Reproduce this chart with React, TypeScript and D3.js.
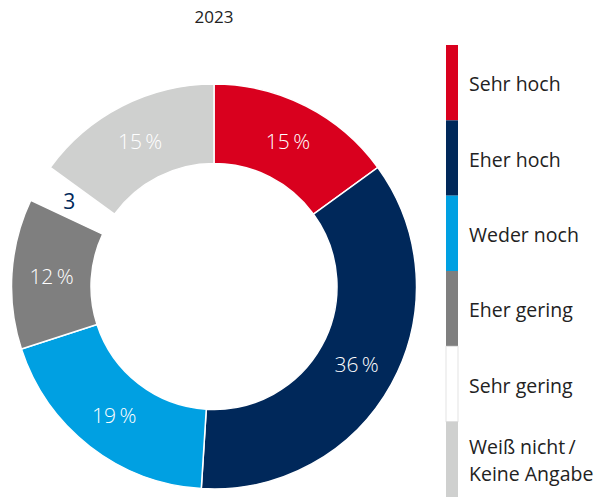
import React from "react";
import * as d3 from "d3";

const title = "2023";
const categories = ["Sehr hoch", "Eher hoch", "Weder noch", "Eher gering", "Sehr gering", "Weiß nicht / Keine Angabe"];
const legendLines = [["Sehr hoch"], ["Eher hoch"], ["Weder noch"], ["Eher gering"], ["Sehr gering"], ["Weiß nicht\u2009/", "Keine Angabe"]];
const values = [15, 36, 19, 12, 3, 15];
const colors = ["#d9001e", "#00285a", "#00a0e2", "#7f7f7f", "#ffffff", "#cfd0cf"];
const labelColors = ["#ffffff", "#ffffff", "#ffffff", "#ffffff", "#00285a", "#ffffff"];

const W = 598;
const H = 497;
const cx = 214;
const cy = 286.5;
const outerR = 202.5;
const innerR = 123;
const font = "'Open Sans', 'Noto Sans', sans-serif";

export default function App() {
  const data = categories.map((c, i) => ({ c, v: values[i], i }));
  const pie = d3.pie<any>().sort(null).value((d) => d.v).startAngle(0).endAngle(2 * Math.PI);
  const arcs = pie(data);
  const arc = d3.arc<any>().innerRadius(innerR).outerRadius(outerR);
  const labelArc = d3.arc<any>().innerRadius(innerR).outerRadius(outerR);
  const outLabelArc = d3.arc<any>().innerRadius(outerR * 0.83).outerRadius(outerR * 0.83);

  const legendY = d3.scaleBand<number>().domain(data.map((d) => d.i)).range([45, 497]).padding(0);

  return (
    <svg width={W} height={H} style={{ position: "absolute", left: 0, top: 0 }}>
      <rect width={W} height={H} fill="#ffffff" />
      <text x={214} y={23} textAnchor="middle" fontFamily={font} fontSize={17} fill="#222">{title}</text>
      <g transform={`translate(${cx},${cy})`}>
        {arcs.map((a, i) => (
          <path key={i} d={arc(a) as string} fill={colors[i]} stroke={colors[i] === "#ffffff" ? "none" : "#ffffff"} strokeWidth={1.5} />
        ))}
        {arcs.map((a, i) => {
          const small = values[i] < 5;
          const [x, y] = small ? outLabelArc.centroid(a) : labelArc.centroid(a);
          return (
            <text key={i} x={x} y={y} dy="0.36em" textAnchor="middle" fontFamily={font} fontSize={21} fontWeight={small ? 400 : 300} fill={labelColors[i]}>
              {small ? `${values[i]}` : `${values[i]}\u2009%`}
            </text>
          );
        })}
      </g>
      <g>
        {data.map((d) => {
          const y0 = legendY(d.i)!;
          const h = legendY.bandwidth();
          const lines = legendLines[d.i];
          const mid = y0 + h / 2;
          const lh = 27;
          return (
            <g key={d.i}>
              <rect x={446} y={y0} width={12} height={h} fill={colors[d.i]} stroke={colors[d.i] === "#ffffff" ? "#e3e3e3" : "none"} strokeWidth={1} />
              {lines.map((l, j) => (
                <text key={j} x={469} y={mid + 8.5 + (j - (lines.length - 1) / 2) * lh} fontFamily={font} fontSize={19.5} fill="#222">{l}</text>
              ))}
            </g>
          );
        })}
      </g>
    </svg>
  );
}
